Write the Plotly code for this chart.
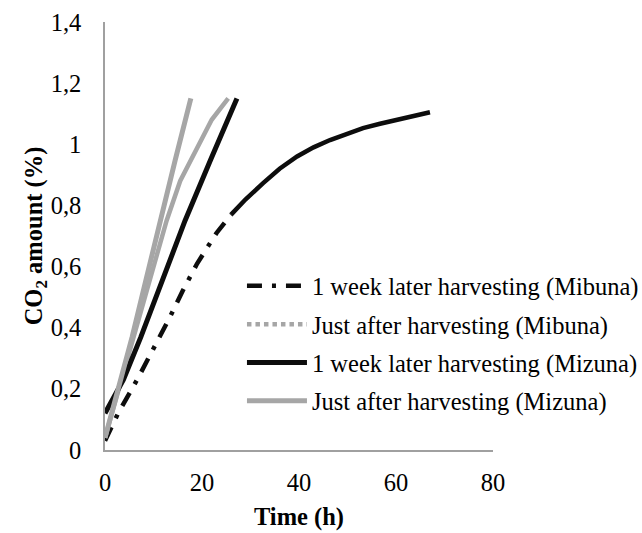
import plotly.graph_objects as go

# ---- data ----
mibuna_week_t = [0, 2.7, 6.8, 10.3, 13.4, 16, 19, 23, 26, 29, 32.6, 36, 39.6, 43, 46.4, 50, 53.2, 56.7, 60, 63.5, 67]
mibuna_week_co2 = [0.03, 0.12, 0.235, 0.34, 0.435, 0.52, 0.61, 0.71, 0.77, 0.82, 0.873, 0.92, 0.96, 0.99, 1.014, 1.035, 1.053, 1.067, 1.08, 1.093, 1.105]

mibuna_fresh_t = [0, 3, 5.8, 9, 12.7, 15.5, 19, 22, 25.4]
mibuna_fresh_co2 = [0.04, 0.21, 0.36, 0.55, 0.75, 0.88, 0.99, 1.08, 1.15]

mizuna_week_t = [0, 3.8, 7.4, 12, 16.5, 21.8, 27.2]
mizuna_week_co2 = [0.12, 0.23, 0.37, 0.56, 0.75, 0.95, 1.15]

mizuna_fresh_t = [0, 3, 5.6, 8.5, 11.3, 14.5, 17.7]
mizuna_fresh_co2 = [0.04, 0.21, 0.37, 0.56, 0.75, 0.95, 1.15]

names = [
    "1 week later harvesting (Mibuna)",
    "Just after harvesting (Mibuna)",
    "1 week later harvesting (Mizuna)",
    "Just after harvesting (Mizuna)",
]

BLACK = "#0d0d0d"
GRAY = "#a6a6a6"
DASHDOT = "15px,10px,4px,10px"

fig = go.Figure()

# Mibuna 1 week later: dash-dot on the sparse (steep) part, dense part looks solid
split = 8
fig.add_trace(go.Scatter(x=mibuna_week_t[:split + 1], y=mibuna_week_co2[:split + 1], mode="lines",
                         line=dict(color=BLACK, width=4.5, dash=DASHDOT), showlegend=False))
fig.add_trace(go.Scatter(x=mibuna_week_t[split:], y=mibuna_week_co2[split:], mode="lines",
                         line=dict(color=BLACK, width=4.5), showlegend=False))
fig.add_trace(go.Scatter(x=mibuna_fresh_t, y=mibuna_fresh_co2, mode="lines",
                         line=dict(color=GRAY, width=4.5), showlegend=False))
fig.add_trace(go.Scatter(x=mizuna_week_t, y=mizuna_week_co2, mode="lines",
                         line=dict(color=BLACK, width=5), showlegend=False))
fig.add_trace(go.Scatter(x=mizuna_fresh_t, y=mizuna_fresh_co2, mode="lines",
                         line=dict(color=GRAY, width=5), showlegend=False))

# legend entries
legend_styles = [
    dict(color=BLACK, width=4.5, dash=DASHDOT),
    dict(color=GRAY, width=4.5, dash="4.5px,4px"),
    dict(color=BLACK, width=5),
    dict(color=GRAY, width=5),
]
for i, (nm, st) in enumerate(zip(names, legend_styles)):
    fig.add_trace(go.Scatter(x=[None], y=[None], mode="lines", name=nm, line=st,
                             legendgroup=f"g{i}"))

FONT = "Liberation Serif, Times New Roman, serif"
AXC = "#a0a0a0"
FS = 24.5

fig.update_layout(
    width=642, height=533,
    margin=dict(l=105, r=149, t=22, b=83, autoexpand=False),
    paper_bgcolor="white", plot_bgcolor="white",
    separators=",.",
    font=dict(family=FONT, size=FS, color="#000000"),
    showlegend=True,
    legend=dict(x=0.353, y=0.436, xanchor="left", yanchor="top",
                bgcolor="rgba(0,0,0,0)", font=dict(size=FS),
                itemwidth=60, tracegroupgap=3.5, traceorder="grouped"),
    xaxis=dict(range=[0, 80], dtick=20, tick0=0, showgrid=False, zeroline=False,
               showline=True, linecolor=AXC, linewidth=1.5, ticks="",
               ticklabelstandoff=10, automargin=False,
               title=dict(text="<b>Time (h)</b>", font=dict(size=FS), standoff=13)),
    yaxis=dict(range=[0, 1.4], dtick=0.2, tick0=0, showgrid=False, zeroline=False,
               showline=True, linecolor=AXC, linewidth=1.5, ticks="",
               ticklabelstandoff=17, automargin=False,
               title=dict(text="<b>CO<sub>2</sub> amount (%)</b>", font=dict(size=FS), standoff=0)),
)

fig.write_html("out.html", config={"displayModeBar": False},
               post_script="document.body.style.margin='0';document.body.style.overflow='hidden';")
